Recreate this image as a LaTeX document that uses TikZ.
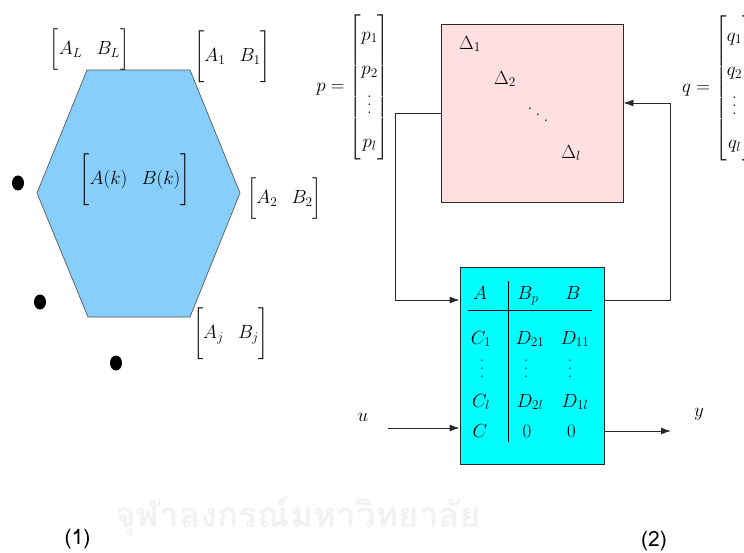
\RequirePackage{fix-cm}
\documentclass[tikz,border=0pt]{standalone}
\usepackage{amsmath}
\usepackage{fontspec}
\newfontfamily\thaifont[Script=Thai]{Loma}
\newfontfamily\capfont{Loma}
\usetikzlibrary{arrows.meta}
\definecolor{hexblue}{RGB}{135,206,250}
\definecolor{pinkfill}{RGB}{255,224,224}
\definecolor{cyanfill}{RGB}{0,255,255}
\definecolor{linegray}{RGB}{40,40,40}
\newcommand{\bkt}[2]{\left[\vcenter{\hbox{\rule{0pt}{#1}}}#2\right]}
\newcommand{\myvdots}{\vbox{\baselineskip=0.4em \lineskiplimit=0pt \kern0.6em\hbox{.}\hbox{.}\hbox{.}}}
\newcommand{\myddots}{\mathinner{\mkern1mu\raise0.75em\hbox{.}\mkern3mu\raise0.45em\hbox{.}\mkern3mu\raise0.15em\hbox{.}\mkern1mu}}
\begin{document}
\begin{tikzpicture}[x=1pt,y=-1pt,
  mth/.style={inner sep=0pt, font=\fontsize{19}{23}\selectfont},
  ent/.style={mth, anchor=base},
  captext/.style={inner sep=0pt, font=\capfont\fontsize{21}{24}\selectfont},
  arr/.style={draw=linegray, line width=0.9pt, -{Latex[length=10pt,width=7pt]}},
  boxstyle/.style={draw=linegray, line width=0.9pt, inner sep=0pt}]
\useasboundingbox (0,0) rectangle (744,553);
% watermark
\node[inner sep=0pt, text=black!5, font=\thaifont\bfseries\fontsize{35}{40}\selectfont] (wm) at (298,517) {จุฬาลงกรณ์มหาวิทยาลัย};
% ---------- (1) polytope ----------
\draw[fill=hexblue, draw=black!65, line width=0.7pt]
  (87,70) -- (190,70) -- (240,193) -- (190,317) -- (88,317) -- (37,193) -- cycle;
\node[mth] (lL) at (89.5,49.5) {$\bkt{46pt}{A_L\hspace{0.75em}B_L}$};
\node[mth] (l1) at (232.5,56.5) {$\bkt{47pt}{A_1\hspace{0.75em}B_1}$};
\node[mth] (lk) at (135,179.5) {$\bkt{55pt}{A(k)\hspace{0.75em}B(k)}$};
\node[mth] (l2) at (284.5,198.5) {$\bkt{38pt}{A_2\hspace{0.75em}B_2}$};
\node[mth] (lj) at (231,333.5) {$\bkt{47pt}{A_j\hspace{0.75em}B_j}$};
\fill (18,183) ellipse [x radius=6pt, y radius=7.5pt];
\fill (40,302) ellipse [x radius=6pt, y radius=7.5pt];
\fill (116,363) ellipse [x radius=6pt, y radius=7.5pt];
% ---------- (2) LFT ----------
\node[boxstyle, fill=pinkfill, minimum width=182pt, minimum height=178pt] (pinkbox) at (532,113) {};
\node[mth] (del1) at (470,44) {$\Delta_1$};
\node[mth] (del2) at (505,79) {$\Delta_2$};
\node[mth] (deld) at (538,116) {$\myddots$};
\node[mth] (dell) at (571,153) {$\Delta_l$};
\node[mth, anchor=east] (pv) at (389.5,87) {\renewcommand{\arraystretch}{1.5}$p = \begin{bmatrix}p_1\\ p_2\\ \myvdots\\ p_l\end{bmatrix}$};
\node[mth, anchor=west] (qv) at (682,88) {\renewcommand{\arraystretch}{1.5}$q = \begin{bmatrix}q_1\\ q_2\\ \myvdots\\ q_l\end{bmatrix}$};
\node[boxstyle, fill=cyanfill, minimum width=144pt, minimum height=197pt] (cyanbox) at (532,365.5) {};
% matrix entries
\node[ent] (m11) at (480,300) {$A$};
\node[ent] (m12) at (528,300) {$B_p$};
\node[ent] (m13) at (573,300) {$B$};
\node[ent] (m21) at (481,344) {$C_1$};
\node[ent] (m22) at (530,344) {$D_{21}$};
\node[ent] (m23) at (575,344) {$D_{11}$};
\node[ent] (m31) at (482,377) {$\myvdots$};
\node[ent] (m32) at (526,377) {$\myvdots$};
\node[ent] (m33) at (570,377) {$\myvdots$};
\node[ent] (m41) at (481,407) {$C_l$};
\node[ent] (m42) at (530,407) {$D_{2l}$};
\node[ent] (m43) at (575,407) {$D_{1l}$};
\node[ent] (m51) at (480,437) {$C$};
\node[ent] (m52) at (527,437) {$0$};
\node[ent] (m53) at (571.5,437) {$0$};
\draw[line width=0.9pt] (468,310) -- (592,310);
\draw[line width=0.9pt] (508,281) -- (508,442);
% connectors
\coordinate (lvlA) at (0,300);
\coordinate (lvlB) at (0,103);
\coordinate (ustart) at (388,428);
\coordinate (yend) at (671,431);
\draw[arr] (pinkbox.west) -| (395,300) -- (cyanbox.west |- lvlA);
\draw[arr] (cyanbox.east |- lvlA) -| (670,103) -- (pinkbox.east |- lvlB);
\draw[arr] (ustart) -- (cyanbox.west |- ustart);
\draw[arr] (cyanbox.east |- yend) -- (yend);
\node[mth] (ulab) at (363,417) {$u$};
\node[mth] (ylab) at (699,414) {$y$};
% captions
\node[captext] (cap1) at (77.5,539) {(1)};
\node[captext] (cap2) at (654,541) {(2)};
\end{tikzpicture}
\end{document}
